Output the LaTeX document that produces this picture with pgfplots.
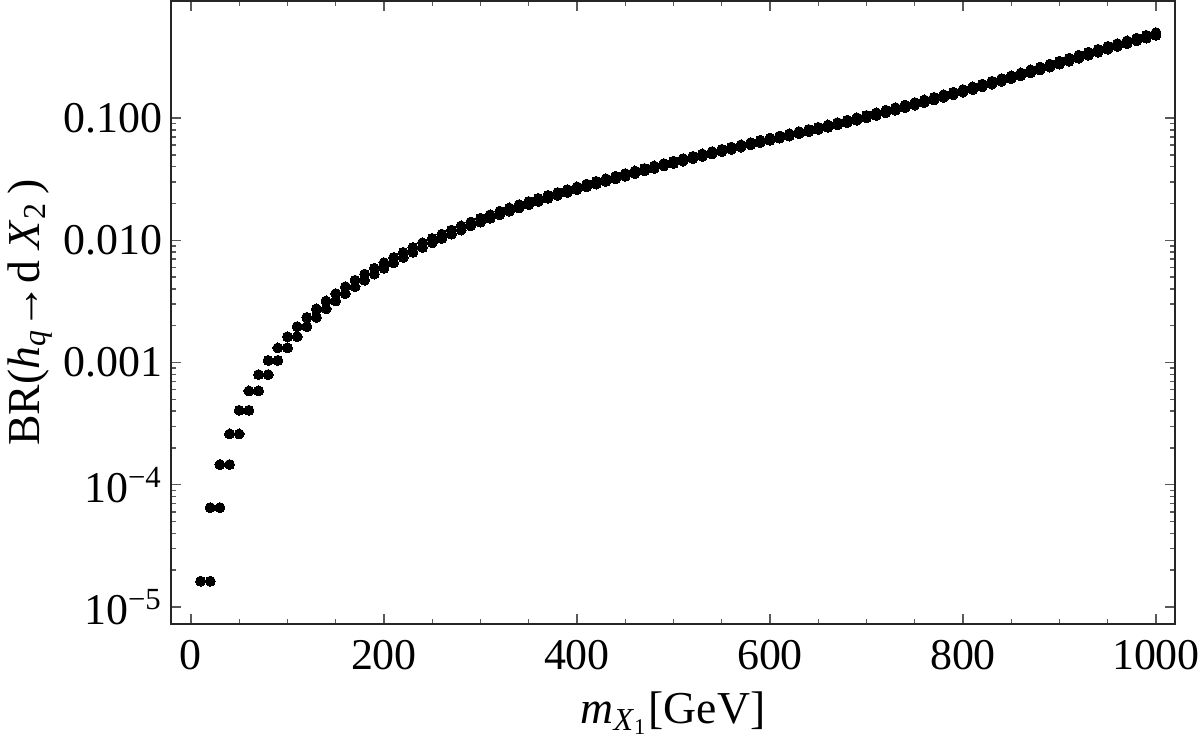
\documentclass[border=0pt]{standalone}
\usepackage{fontspec}
\setmainfont{Liberation Serif}
\usepackage{pgfplots}
\usepackage{pgfplotstable}
\pgfplotsset{compat=1.18}

% branching ratio versus the X1 mass (GeV)
\pgfplotstableread{
m f
10 1.626e-5
20 6.504e-5
30 1.463e-4
40 2.602e-4
50 4.065e-4
60 5.854e-4
70 7.967e-4
80 1.041e-3
90 1.317e-3
100 1.626e-3
110 1.967e-3
120 2.341e-3
130 2.748e-3
140 3.187e-3
150 3.659e-3
160 4.172e-3
170 4.710e-3
180 5.292e-3
190 5.897e-3
200 6.549e-3
210 7.237e-3
220 7.961e-3
230 8.721e-3
240 9.518e-3
250 0.01035
260 0.01122
270 0.01213
280 0.01311
290 0.01409
300 0.01511
310 0.01617
320 0.01728
330 0.01837
340 0.01955
350 0.02076
360 0.02202
370 0.02331
380 0.02459
390 0.02596
400 0.02737
410 0.02882
420 0.03031
430 0.03185
440 0.03342
450 0.03512
460 0.03687
470 0.03867
480 0.04051
490 0.04241
500 0.04437
510 0.04648
520 0.04854
530 0.05078
540 0.05308
550 0.05544
560 0.05788
570 0.06038
580 0.06295
590 0.06574
600 0.06846
610 0.07125
620 0.07429
630 0.07741
640 0.08063
650 0.08394
660 0.08774
670 0.09168
680 0.09597
690 0.1004
700 0.1050
710 0.1103
720 0.1158
730 0.1216
740 0.1275
750 0.1337
760 0.1405
770 0.1476
780 0.1550
790 0.1627
800 0.1707
810 0.1799
820 0.1896
830 0.1997
840 0.2102
850 0.2213
860 0.2340
870 0.2473
880 0.2613
890 0.2760
900 0.2915
910 0.3085
920 0.3264
930 0.3452
940 0.3651
950 0.3860
960 0.4061
970 0.4282
980 0.4504
990 0.4747
1000 0.4990
}\brdata

\begin{document}
\begin{tikzpicture}
\begin{axis}[
  scale only axis,
  width=10.04cm, height=6.23cm,
  xmin=-20.7, xmax=1019.7,
  ymode=log, ymin=7.26e-6, ymax=0.906,
  axis line style={draw=gray!30!black, line width=0.55pt},
  tick style={draw=gray!70!black, line width=0.4pt},
  major tick length=0.1cm, minor tick length=0.055cm,
  tick align=inside,
  xtick={0,200,...,1000}, minor x tick num=3,
  xticklabel style={font=\fontsize{12.5}{14}\selectfont, yshift=-0.04cm,
    /pgf/number format/1000 sep={}},
  ytick={1e-5,1e-4,1e-3,1e-2,1e-1},
  yticklabels={10\textsuperscript{−5},10\textsuperscript{−4},0.001,0.010,0.100},
  yticklabel style={font=\fontsize{12.5}{14}\selectfont, xshift=0.04cm},
  /pgf/number format/assume math mode=true,
  xlabel={\textit{m}\textsubscript{\textit{X}\textsubscript{1}}[GeV]},
  ylabel={BR(\textit{h}\textsubscript{\textit{q}}→d \textit{X}\textsubscript{2}\,)},
  xlabel style={font=\fontsize{13}{15}\selectfont, at={(axis description cs:0.5,-0.143)}, anchor=center},
  ylabel style={font=\fontsize{13}{15}\selectfont, at={(axis description cs:-0.1404,0.5)}, anchor=center},
  clip=false,
]
\coordinate (ll) at (rel axis cs:0,0);
\coordinate (ur) at (rel axis cs:1,1);
\addplot[only marks, mark=*, mark size=0.05cm, mark options={draw=black, fill=black, line width=0pt}]
  table[x=m, y=f] {\brdata};
\addplot[only marks, mark=*, mark size=0.05cm, mark options={draw=black, fill=black, line width=0pt},
  skip coords between index={99}{100}]
  table[x expr=\thisrow{m}+10, y=f] {\brdata};
\end{axis}
\pgfresetboundingbox
\path (ll) ++(-1.71cm,-1.15cm) coordinate (bl);
\path (ur) ++(0.25cm,0.01cm) coordinate (tr);
\path[use as bounding box] (bl) rectangle (tr);
\end{tikzpicture}
\end{document}
